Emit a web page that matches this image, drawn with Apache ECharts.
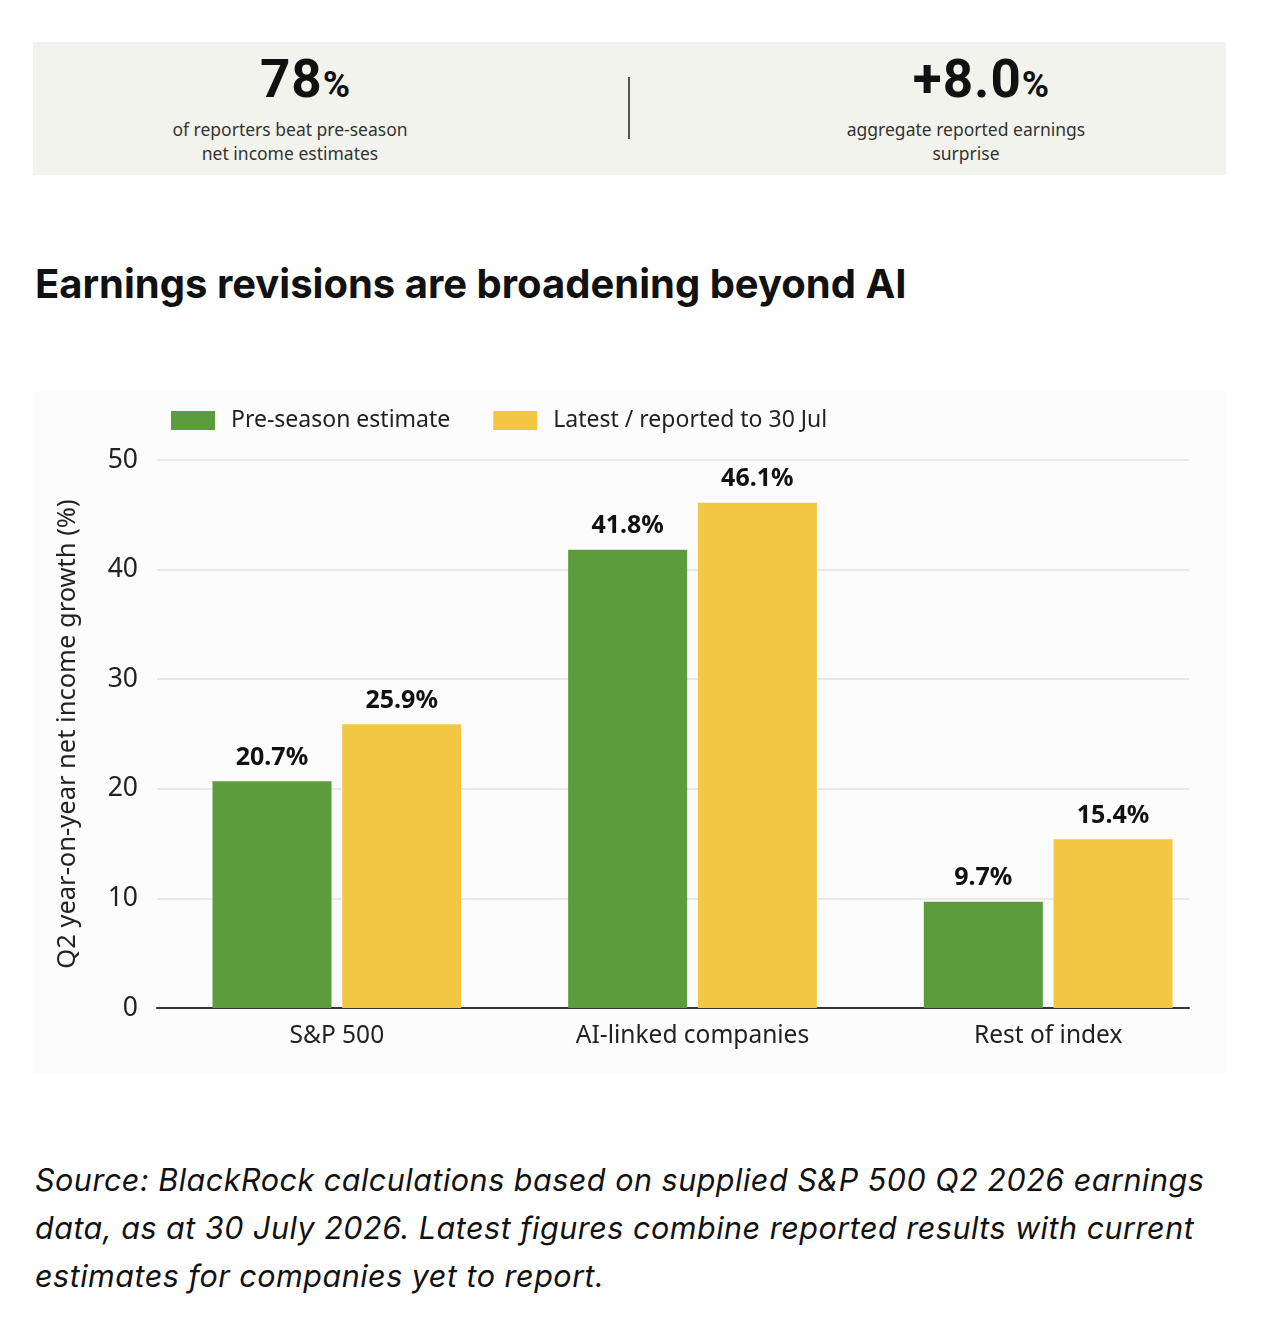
<!DOCTYPE html>
<html>
<head>
<meta charset="utf-8">
<script src="https://cdn.jsdelivr.net/npm/echarts@6/dist/echarts.min.js"></script>
<style>
  html, body { margin: 0; padding: 0; background: #ffffff; }
  body { width: 1262px; height: 1322px; position: relative; overflow: hidden; }
  #stats { position: absolute; left: 33px; top: 42px; width: 1193px; height: 133px; background: #f3f3ee; }
  .big { position: absolute; top: 10px; width: 300px; text-align: center; color: #111; font-family: Roboto, "Noto Sans", sans-serif; font-weight: bold; font-size: 53px; line-height: 54px; }
  .big span.inner { display: inline-block; letter-spacing: 1px; }
  .big .pct { font-size: 37px; letter-spacing: 0; }
  .sub { position: absolute; top: 75px; width: 340px; text-align: center; font-family: "Noto Sans", sans-serif; font-size: 17.5px; line-height: 24px; color: #333; }
  #divider { position: absolute; left: 595px; top: 35px; width: 2px; height: 62px; background: #555; }
  #title { position: absolute; left: 35px; top: 259px; font-family: Inter, "Noto Sans", sans-serif; font-weight: bold; font-size: 40px; line-height: 50px; color: #111; white-space: nowrap; }
  #chart { position: absolute; left: 33px; top: 391px; width: 1193px; height: 683px; background: #fcfcfd; }
  #source { position: absolute; left: 35px; top: 1156px; font-family: Inter, "Noto Sans", sans-serif; font-style: italic; font-size: 30.5px; letter-spacing: 0.5px; line-height: 48px; color: #111; white-space: nowrap; }
</style>
</head>
<body>
<div id="stats">
  <div class="big" style="left:122px;"><span class="inner">78<span class="pct">%</span></span></div>
  <div class="sub" style="left:87px;">of reporters beat pre-season<br>net income estimates</div>
  <div id="divider"></div>
  <div class="big" style="left:798px;"><span class="inner">+8.0<span class="pct">%</span></span></div>
  <div class="sub" style="left:763px;">aggregate reported earnings<br>surprise</div>
</div>
<div id="title">Earnings revisions are broadening beyond AI</div>
<div id="chart"></div>
<div id="source">Source: BlackRock calculations based on supplied S&amp;P 500 Q2 2026 earnings<br>data, as at 30 July 2026. Latest figures combine reported results with current<br>estimates for companies yet to report.</div>
<script>
const categories = ['S&P 500', 'AI-linked companies', 'Rest of index'];
const preSeason = [20.7, 41.8, 9.7];
const latest = [25.9, 46.1, 15.4];
const seriesNames = ['Pre-season estimate', 'Latest / reported to 30 Jul'];
const yTicks = [0, 10, 20, 30, 40, 50];

const chart = echarts.init(document.getElementById('chart'), null, { renderer: 'canvas' });
const font = '"Noto Sans", "Open Sans", sans-serif';
const labelStyle = {
  show: true, position: 'top', distance: 11,
  fontFamily: font, fontWeight: 'bold', fontSize: 25, color: '#111',
  formatter: p => p.value.toFixed(1) + '%'
};
chart.setOption({
  animation: false,
  textStyle: { fontFamily: font },
  legend: {
    left: 133, top: 13,
    itemWidth: 44, itemHeight: 19, itemGap: 43, icon: 'rect',
    textStyle: { fontFamily: font, fontSize: 23, color: '#222', padding: [0, 0, 0, 11] },
    data: seriesNames
  },
  grid: [
    { left: 124, right: 37, top: 69, bottom: 66 },
    { left: 126, width: 1070, top: 69, bottom: 66 }
  ],
  xAxis: [
    { gridIndex: 0, type: 'category', data: categories,
      axisLine: { show: true, lineStyle: { color: '#333', width: 2 } },
      axisTick: { show: false }, axisLabel: { show: false } },
    { gridIndex: 1, type: 'category', data: categories,
      axisLine: { show: false }, axisTick: { show: false },
      axisLabel: { fontFamily: font, fontSize: 24.5, color: '#222', margin: 16 } }
  ],
  yAxis: [
    { gridIndex: 0, type: 'value', min: yTicks[0], max: yTicks[yTicks.length - 1], interval: 10,
      name: 'Q2 year-on-year net income growth (%)', nameLocation: 'middle', nameGap: 76,
      nameTextStyle: { fontFamily: font, fontSize: 25.5, color: '#222' },
      axisLine: { show: false }, axisTick: { show: false },
      axisLabel: { fontFamily: font, fontSize: 26.5, color: '#222', margin: 19 },
      splitLine: { lineStyle: { color: '#e2e2e2', width: 1.5 } } },
    { gridIndex: 1, type: 'value', min: yTicks[0], max: yTicks[yTicks.length - 1], interval: 10,
      axisLine: { show: false }, axisTick: { show: false }, axisLabel: { show: false },
      splitLine: { show: false } }
  ],
  series: [
    { name: seriesNames[0], type: 'bar', xAxisIndex: 1, yAxisIndex: 1, data: preSeason,
      barWidth: 119, barGap: '9%', itemStyle: { color: '#5b9d3c' }, label: labelStyle, z: 3 },
    { name: seriesNames[1], type: 'bar', xAxisIndex: 1, yAxisIndex: 1, data: latest,
      barWidth: 119, barGap: '9%', itemStyle: { color: '#f3c744' }, label: labelStyle, z: 3 }
  ]
});
</script>
</body>
</html>
